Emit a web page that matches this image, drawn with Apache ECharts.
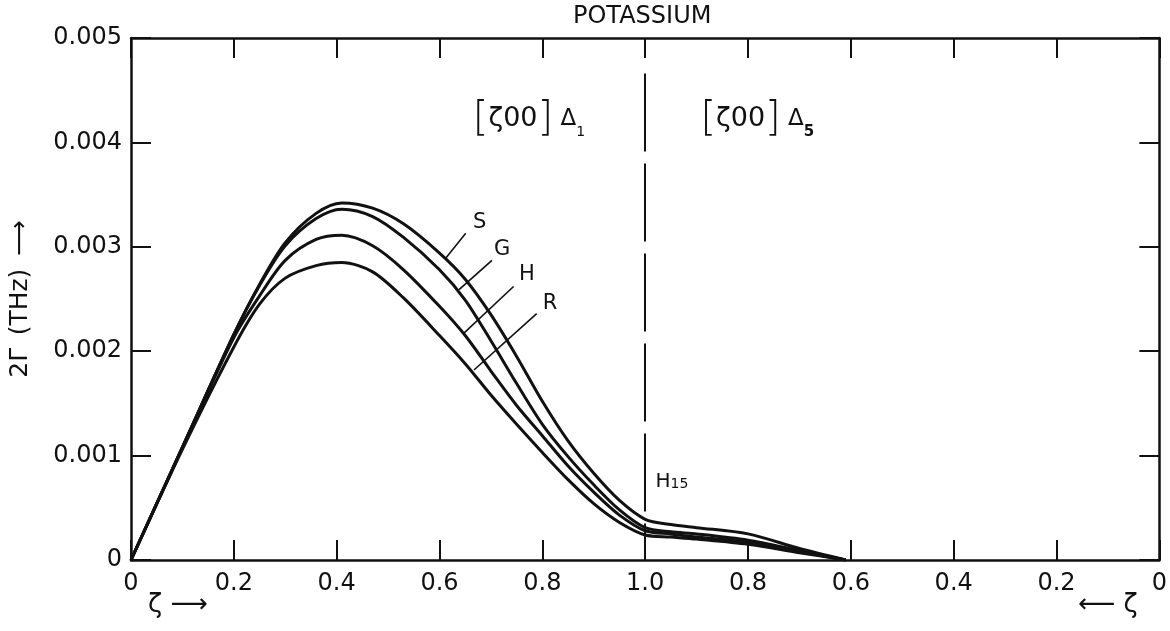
<!DOCTYPE html>
<html>
<head>
<meta charset="utf-8">
<script src="https://cdn.jsdelivr.net/npm/echarts@6/dist/echarts.min.js"></script>
<style>
html, body { margin: 0; padding: 0; background: #fff; }
#chart { width: 1170px; height: 631px; }
</style>
</head>
<body>
<div id="chart"></div>
<script>
// path coordinate: 0..1 is [zeta 0 0] Delta1, 1..2 runs back along Delta5
var zeta = [0, 0.1, 0.2, 0.25, 0.3, 0.36, 0.41, 0.47, 0.53, 0.6, 0.65, 0.7, 0.75, 0.8, 0.85, 0.9, 0.95, 1.0, 1.05, 1.1, 1.2, 1.3, 1.39];

var curveS = [0, 0.00108, 0.00216, 0.00264, 0.00304, 0.00332, 0.00342, 0.00337, 0.00322, 0.00294, 0.00269, 0.00235, 0.00195, 0.00152, 0.00114, 0.00083, 0.00057, 0.00039, 0.00034, 0.00031, 0.00025, 0.00011, 0];
var curveG = [0, 0.00108, 0.00216, 0.00263, 0.00301, 0.00327, 0.00336, 0.00329, 0.00309, 0.00278, 0.00249, 0.00210, 0.00169, 0.00130, 0.00099, 0.00072, 0.00048, 0.00031, 0.00027, 0.00025, 0.00019, 0.00009, 0];
var curveH = [0, 0.00108, 0.00213, 0.00253, 0.00287, 0.00307, 0.00311, 0.00301, 0.00278, 0.00243, 0.00215, 0.00181, 0.00148, 0.00119, 0.00090, 0.00065, 0.00043, 0.00028, 0.00025, 0.00022, 0.00017, 0.00008, 0];
var curveR = [0, 0.00106, 0.00204, 0.00245, 0.00270, 0.00282, 0.00285, 0.00276, 0.00251, 0.00215, 0.00188, 0.00158, 0.00130, 0.00103, 0.00077, 0.00054, 0.00036, 0.00024, 0.00022, 0.00020, 0.00015, 0.00007, 0];

var curveNames = ['S', 'G', 'H', 'R'];
// leader lines from each curve to its letter: [start t, start v, end t, end v]
var leaders = [
    [0.612, 0.00289, 0.651, 0.00313],
    [0.638, 0.00259, 0.702, 0.00287],
    [0.647, 0.00217, 0.744, 0.00262],
    [0.667, 0.00182, 0.789, 0.00236]
];
var letterPos = [[0.678, 0.00323], [0.722, 0.00297], [0.770, 0.00273], [0.815, 0.00246]];

var font = 'DejaVu Sans';
var ink = '#111';

function pairs(vals) {
    var out = [];
    for (var i = 0; i < zeta.length; i++) out.push([zeta[i], vals[i]]);
    return out;
}

var chart = echarts.init(document.getElementById('chart'));

var leaderLines = [];
for (var i = 0; i < leaders.length; i++) {
    leaderLines.push([{ coord: [leaders[i][0], leaders[i][1]] }, { coord: [leaders[i][2], leaders[i][3]] }]);
}
// dashed boundary at the H point
leaderLines.push([
    { coord: [1, 0.00466], lineStyle: { type: [78, 12], width: 2 } },
    { coord: [1, 0] }
]);

var points = [];
for (var i = 0; i < curveNames.length; i++) {
    points.push({ coord: letterPos[i], label: { formatter: curveNames[i], fontSize: 21 } });
}
points.push({ coord: [0.774, 0.00422], label: { formatter: '{b|[}{t|ζ00}{b|]}{d| Δ}{s|1}' } });
points.push({ coord: [1.218, 0.00422], label: { formatter: '{b|[}{t|ζ00}{b|]}{d| Δ}{s5|5}' } });
points.push({ coord: [1.052, 0.00075], label: { formatter: '{h|H}{s|15}' } });

var richText = {
    b: { fontSize: 40, fontFamily: font, color: ink, fontWeight: 'lighter' },
    t: { fontSize: 27, fontFamily: font, color: ink },
    d: { fontSize: 23, fontFamily: font, color: ink },
    h: { fontSize: 20, fontFamily: font, color: ink },
    s: { fontSize: 14, fontFamily: font, color: ink, verticalAlign: 'bottom', padding: [5, 0, 0, 0] },
    s5: { fontSize: 15, fontFamily: font, color: ink, fontWeight: 'bold', verticalAlign: 'bottom', padding: [5, 0, 0, 0] }
};

var series = [];
var curves = [curveS, curveG, curveH, curveR];
for (var i = 0; i < curves.length; i++) {
    var s = {
        name: curveNames[i],
        type: 'line',
        data: pairs(curves[i]),
        smooth: 0.3,
        showSymbol: false,
        lineStyle: { color: ink, width: 3 }
    };
    if (i === 0) {
        s.markLine = {
            silent: true,
            symbol: ['none', 'none'],
            label: { show: false },
            lineStyle: { color: ink, width: 1.6, type: 'solid' },
            data: leaderLines
        };
        s.markPoint = {
            silent: true,
            symbol: 'circle',
            symbolSize: 0,
            label: { show: true, position: 'inside', color: ink, fontFamily: font, rich: richText },
            data: points
        };
    }
    series.push(s);
}

var tickStyle = { show: true, inside: true, length: 20, lineStyle: { color: ink, width: 2 } };
var lineStyle = { show: true, onZero: false, lineStyle: { color: ink, width: 2.5 } };

option = {
    animation: false,
    backgroundColor: '#fff',
    grid: { left: 127, right: 10, top: 38, bottom: 71 },
    xAxis: [{
        type: 'value', min: 0, max: 2, interval: 0.2,
        axisLine: lineStyle, axisTick: tickStyle, splitLine: { show: false },
        axisLabel: {
            color: ink, fontFamily: font, fontSize: 24, margin: 12,
            formatter: function (v) {
                var z = Math.round((v <= 1 ? v : 2 - v) * 10) / 10;
                if (z === 0) return '0';
                return z.toFixed(1);
            }
        }
    }, {
        type: 'value', min: 0, max: 2, interval: 0.2, position: 'top',
        axisLine: lineStyle, axisTick: tickStyle, splitLine: { show: false },
        axisLabel: { show: false }
    }],
    yAxis: [{
        type: 'value', min: 0, max: 0.005, interval: 0.001,
        axisLine: lineStyle, axisTick: tickStyle, splitLine: { show: false },
        name: '2Γ\u2002(THz)\u2002⟶', nameLocation: 'middle', nameRotate: 90, nameGap: 98,
        nameTextStyle: { color: ink, fontFamily: font, fontSize: 25 },
        axisLabel: {
            color: ink, fontFamily: font, fontSize: 24, margin: 9,
            formatter: function (v) { return v === 0 ? '0' : v.toFixed(3); }
        }
    }, {
        type: 'value', min: 0, max: 0.005, interval: 0.001, position: 'right',
        axisLine: lineStyle, axisTick: tickStyle, splitLine: { show: false },
        axisLabel: { show: false }
    }],
    graphic: [
        { type: 'text', left: 573, top: 5, style: { text: 'POTASSIUM', fill: ink, font: '500 24px "DejaVu Sans"' } },
        { type: 'text', left: 148, top: 592, style: { text: 'ζ ⟶', fill: ink, font: '26px "DejaVu Sans"' } },
        { type: 'text', left: 1078, top: 592, style: { text: '⟵ ζ', fill: ink, font: '26px "DejaVu Sans"' } }
    ],
    series: series
};
chart.setOption(option);
window.addEventListener('resize', function () { chart.resize(); });
</script>
</body>
</html>
